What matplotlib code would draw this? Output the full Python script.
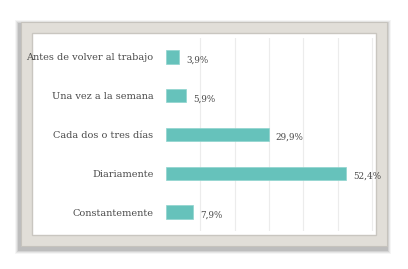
import matplotlib
matplotlib.use("Agg")
import matplotlib.pyplot as plt
from matplotlib.patches import Rectangle

categories = ["Antes de volver al trabajo", "Una vez a la semana", "Cada dos o tres días",
              "Diariamente", "Constantemente"]
values = [3.9, 5.9, 29.9, 52.4, 7.9]
value_labels = ["3,9%", "5,9%", "29,9%", "52,4%", "7,9%"]

W, H = 408, 269
fig = plt.figure(figsize=(W/100, H/100), dpi=100)
fig.patch.set_facecolor("white")

def fr(x, y, w, h, **kw):
    r = Rectangle((x/W, 1 - (y+h)/H), w/W, h/H, transform=fig.transFigure, zorder=-10, **kw)
    fig.patches.append(r)

# shadow
for i, a in enumerate([0.04, 0.06, 0.08, 0.10]):
    d = 5 - i
    fr(21-d-1, 22-d+3, 366+2*d, 224+2*d, facecolor="#000000", alpha=a, edgecolor="none")
# frame
fr(21, 22, 366, 224, facecolor="#e1ded8", edgecolor="#c6c3bd", linewidth=0.8)
fr(32, 33, 344, 202, facecolor="white", edgecolor="#c9c6c0", linewidth=1.0)

x0 = 166
scale = 180/52.4
xmax = 61
top, bottom = 37.6, 231.4
ax = fig.add_axes([x0/W, 1 - bottom/H, xmax*scale/W, (bottom-top)/H])
ax.set_zorder(5)
ax.set_facecolor("none")
y = list(range(len(categories)))
ax.barh(y, values, height=0.34, color="#66c2bb", edgecolor="#8fd4ce", linewidth=0.5, zorder=3)
ax.set_ylim(len(categories) - 0.5, -0.5)
ax.set_xlim(0, xmax)
ax.set_xticks([10, 20, 30, 40, 50, 60])
ax.grid(axis="x", color="#ececec", linewidth=0.8, zorder=0)
ax.tick_params(length=0, labelbottom=False)
ax.set_yticks(y)
ax.set_yticklabels(categories, family="DejaVu Serif", fontsize=7, color="#4a4a4a")
ax.tick_params(axis="y", pad=9)
for s in ax.spines.values():
    s.set_visible(False)
for yi, v, lab in zip(y, values, value_labels):
    ax.text(v + 2.0, yi + 0.08, lab, va="center", ha="left", family="DejaVu Serif",
            fontsize=6.3, color="#4a4a4a", clip_on=False, zorder=4)

fig.savefig("out.png", dpi=100, facecolor="white")
